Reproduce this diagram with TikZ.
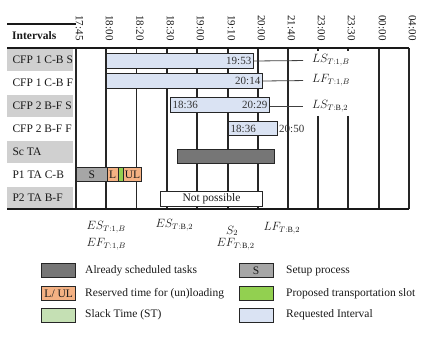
\documentclass[tikz,border=0pt]{standalone}
\usepackage{fontspec}
\setmainfont{Liberation Serif}
\definecolor{reqblue}{HTML}{DAE3F3}
\definecolor{schgray}{HTML}{767676}
\definecolor{setgray}{HTML}{A6A6A6}
\definecolor{lorange}{HTML}{F4B183}
\definecolor{pgreen}{HTML}{92D050}
\definecolor{sgreen}{HTML}{C5E0B4}
\definecolor{labgray}{HTML}{D0D0D0}
\begin{document}
\begin{tikzpicture}[x=1pt,y=-1pt,
  every node/.style={font=\fontsize{11.5}{13}\selectfont, text=black!90},
  gridl/.style={line width=1.1pt, draw=black!85},
  rulel/.style={line width=1.5pt, draw=black!90},
  rowbg/.style={fill=labgray, anchor=north west, minimum width=66pt, minimum height=22.5pt, inner sep=0pt},
  rowtxt/.style={anchor=west},
  timelab/.style={rotate=-90, font=\fontsize{11}{13}\selectfont},
  box/.style={draw=black!85, line width=1pt, anchor=north west, inner sep=0pt},
  bar/.style={box, fill=reqblue},
  bartxt/.style={font=\fontsize{11}{13}\selectfont, text=black!80, inner xsep=2.5pt},
  conn/.style={draw=black!75, line width=0.8pt},
  annot/.style={anchor=west},
  legbox/.style={draw=black!85, line width=0.9pt, minimum width=34pt, minimum height=14pt, inner sep=0pt},
  legtxt/.style={anchor=west}
]
\useasboundingbox (0,0) rectangle (423,339);

% row label backgrounds and texts
\node[rowbg] (bg1) at (7,48.5) {};
\node[rowbg] (bg3) at (7,94.5) {};
\node[rowbg] (bg5) at (7,140.5) {};
\node[rowbg] (bg7) at (7,186.5) {};
\node[rowtxt] (r1) at (9,60) {CFP 1 C-B S};
\node[rowtxt] (r2) at (9,83) {CFP 1 C-B F};
\node[rowtxt] (r3) at (9,106) {CFP 2 B-F S};
\node[rowtxt] (r4) at (9,129) {CFP 2 B-F F};
\node[rowtxt] (r5) at (9,152) {Sc TA};
\node[rowtxt] (r6) at (9,175) {P1 TA C-B};
\node[rowtxt] (r7) at (9,198) {P2 TA B-F};
\node[rowtxt, font=\bfseries\fontsize{11.5}{13}\selectfont] (hdr) at (8.7,36) {Intervals};

% grid lines
\foreach \x in {76,106,136.5,167,197,228,258,288,379,409}
  \draw[gridl] (\x,48) -- (\x,209);
\foreach \x in {318,348} {
  \draw[gridl] (\x,48) -- (\x,51);
  \draw[gridl] (\x,116) -- (\x,209);
}
\draw[rulel] (7,24) -- (76,24);
\draw[rulel] (7,48) -- (409,48);
\draw[rulel] (7,209) -- (409,209);

% time labels
\foreach \x/\t [count=\k] in {76/17:45,106/18:00,136.5/18:20,167/18:30,197/19:00,228/19:10,258/20:00,288/21:40,318/23:00,348/23:30,379/00:00,409/04:00}
  \node[timelab] (t\k) at (\x+3.5,28) {\t};

% requested intervals
\node[bar, minimum width=147pt, minimum height=15pt] (b1) at (106,53) {};
\node[bartxt, anchor=east] (b1r) at (b1.east) {19:53};
\node[bar, minimum width=156pt, minimum height=15pt] (b2) at (106,73) {};
\node[bartxt, anchor=east] (b2r) at (b2.east) {20:14};
\node[bar, minimum width=99pt, minimum height=15pt] (b3) at (170,97) {};
\node[bartxt, anchor=west] (b3l) at (b3.west) {18:36};
\node[bartxt, anchor=east] (b3r) at (b3.east) {20:29};
\node[bar, minimum width=49pt, minimum height=14.5pt] (b4) at (228,121) {};
\node[bartxt, anchor=west] (b4l) at (b4.west) {18:36};
\node[bartxt, anchor=west, inner xsep=1pt] (b4r) at (b4.east) {20:50};

% scheduled task
\node[box, fill=schgray, minimum width=97.5pt, minimum height=14pt] (sc) at (176.5,149) {};

% P1 TA C-B
\node[box, fill=setgray, minimum width=30.5pt, minimum height=14.5pt] (ps) at (76,167) {S};
\node[box, fill=lorange, minimum width=11.2pt, minimum height=14.5pt] (pl) at (106.5,167) {L};
\node[box, fill=pgreen, minimum width=5.6pt, minimum height=14.5pt] (pg) at (117.7,167) {};
\node[box, fill=lorange, minimum width=17.4pt, minimum height=14.5pt] (pu) at (123.3,167) {UL};

% P2 TA B-F
\node[box, fill=white, minimum width=102pt, minimum height=15pt] (np) at (160,191) {Not possible};

% latest start/finish labels
\node[annot] (ls1) at (308.5,60.5) {$LS_{T:1,B}$};
\node[annot] (lf1) at (308.5,80.5) {$LF_{T:1,B}$};
\node[annot] (ls2) at (308.5,106) {$LS_{T:\mathrm{B},2}$};
\draw[conn, shorten >=5.5pt] (b1.east) -- (ls1.west);
\draw[conn, shorten >=5.5pt] (b2.east) -- (lf1.west);
\draw[conn, shorten >=5.5pt] (b3.east |- ls2.west) -- (ls2.west);

% bottom annotations
\node[annot] (es1) at (83,227) {$ES_{T:1,B}$};
\node[annot] (ef1) at (83,244) {$EF_{T:1,B}$};
\node[annot] (es2) at (152,225) {$ES_{T:\mathrm{B},2}$};
\node[annot] (s2) at (222.5,231) {$S_2$};
\node[annot] (ef2) at (213,244) {$EF_{T:\mathrm{B},2}$};
\node[annot] (lf2) at (260,228) {$LF_{T:\mathrm{B},2}$};

% legend
\node[legbox, fill=schgray] (lg1) at (58.7,270.8) {};
\node[legtxt] (lt1) at (81.7,270.8) {Already scheduled tasks};
\node[legbox, fill=lorange] (lg2) at (58.7,293.3) {L/ UL};
\node[legtxt] (lt2) at (81.7,293.3) {Reserved time for (un)loading};
\node[legbox, fill=sgreen] (lg3) at (58.7,315) {};
\node[legtxt] (lt3) at (81.7,315) {Slack Time (ST)};
\node[legbox, fill=setgray] (lg4) at (256,270.8) {S};
\node[legtxt] (lt4) at (282.7,270.8) {Setup process};
\node[legbox, fill=pgreen] (lg5) at (256,293.3) {};
\node[legtxt] (lt5) at (282.7,293.3) {Proposed transportation slot};
\node[legbox, fill=reqblue] (lg6) at (256,315) {};
\node[legtxt] (lt6) at (282.7,315) {Requested Interval};
\end{tikzpicture}
\end{document}
